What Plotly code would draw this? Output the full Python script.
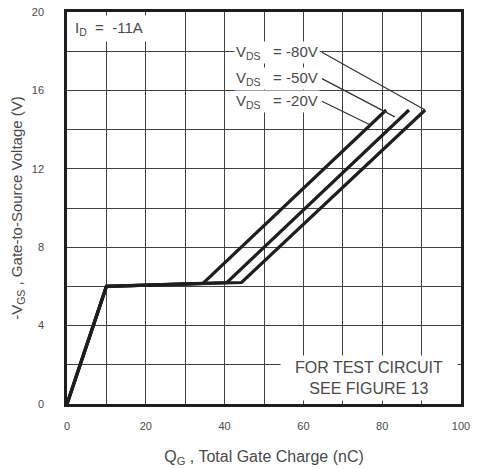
import plotly.graph_objects as go

# Gate charge curves (x = Q_G in nC, y = -V_GS in V)
qg_20 = [0, 10, 34.5, 81.0]
vgs_20 = [0, 6.0, 6.15, 15.0]
qg_50 = [0, 10, 40.6, 86.8]
vgs_50 = [0, 6.0, 6.2, 15.0]
qg_80 = [0, 10, 44.3, 90.9]
vgs_80 = [0, 6.0, 6.2, 15.0]

NB = "\u00a0"
series_names = [f"V<sub>DS</sub>{NB*3}={NB}-20V",
                f"V<sub>DS</sub>{NB*3}={NB}-50V",
                f"V<sub>DS</sub>{NB*3}={NB}-80V"]
# leader lines: from label end to curve
leader_x = [[64.7, 77.4], [64.7, 83.2], [64.7, 90.9]]
leader_y = [[15.45, 14.2], [16.6, 14.65], [17.95, 15.0]]

x_grid = [0, 10, 20, 30, 40, 50, 60, 70, 80, 90, 100]
x_labels = ["0", "", "20", "", "40", "", "60", "", "80", "", "100"]
y_grid = [0, 2, 4, 6, 8, 10, 12, 14, 16, 18, 20]
y_labels = ["0", "", "4", "", "8", "", "12", "", "16", "", "20"]

line_col = "#1e1e1e"
grid_col = "#404040"
text_col = "#4a4a4a"
font_fam = "Liberation Sans, Arial, sans-serif"

fig = go.Figure()
for qx, vy in [(qg_20, vgs_20), (qg_50, vgs_50), (qg_80, vgs_80)]:
    fig.add_trace(go.Scatter(x=qx, y=vy, mode="lines",
                             line=dict(color=line_col, width=3.2),
                             showlegend=False, hoverinfo="skip"))
for lx, ly in zip(leader_x, leader_y):
    fig.add_trace(go.Scatter(x=lx, y=ly, mode="lines",
                             line=dict(color="#333", width=1.2),
                             showlegend=False, hoverinfo="skip"))

# series labels
for name, lx, ly in zip(series_names, leader_x, leader_y):
    fig.add_annotation(x=lx[0], y=ly[0], xref="x", yref="y", text=name,
                       showarrow=False, xanchor="right", yanchor="middle",
                       xshift=-2, bgcolor="white", borderpad=1,
                       font=dict(family=font_fam, size=15, color=text_col))

fig.add_annotation(x=0, y=1, xref="paper", yref="paper",
                   text=f"I<sub>D</sub>{NB*2}={NB*2}-11A", showarrow=False,
                   xanchor="left", yanchor="top", xshift=4, yshift=-3,
                   bgcolor="white", borderpad=3,
                   font=dict(family=font_fam, size=15, color=text_col))

fig.add_annotation(x=1, y=0, xref="paper", yref="paper",
                   text="FOR TEST CIRCUIT<br>SEE FIGURE 13", showarrow=False,
                   xanchor="right", yanchor="bottom", xshift=-3, yshift=3,
                   width=174, height=42, align="center", valign="middle",
                   bgcolor="white",
                   font=dict(family=font_fam, size=16, color=text_col))

fig.update_xaxes(range=[0, 100], tickmode="array", tickvals=x_grid, ticktext=x_labels,
                 ticks="", automargin=False, ticklabelstandoff=10,
                 showgrid=True, gridcolor=grid_col, gridwidth=1,
                 showline=True, mirror=True, linecolor=line_col, linewidth=2.5,
                 zeroline=False,
                 tickfont=dict(family=font_fam, size=11, color=text_col),
                 title=dict(text="Q<sub>G</sub> , Total Gate Charge (nC)",
                            font=dict(family=font_fam, size=16, color=text_col),
                            standoff=20))
fig.update_yaxes(range=[0, 20], tickmode="array", tickvals=y_grid, ticktext=y_labels,
                 ticks="", automargin=False,
                 showgrid=True, gridcolor=grid_col, gridwidth=1,
                 showline=True, mirror=True, linecolor=line_col, linewidth=2.5,
                 zeroline=False, ticklabelstandoff=18,
                 tickfont=dict(family=font_fam, size=11, color=text_col),
                 title=dict(text="-V<sub>GS</sub> , Gate-to-Source Voltage (V)",
                            font=dict(family=font_fam, size=15, color=text_col),
                            standoff=6))

fig.update_layout(width=480, height=469,
                  margin=dict(l=67, r=19, t=12, b=65),
                  paper_bgcolor="white", plot_bgcolor="white")

fig.write_html("out.html", config={"displayModeBar": False},
               post_script="document.body.style.margin='0';document.body.style.overflow='hidden';")
